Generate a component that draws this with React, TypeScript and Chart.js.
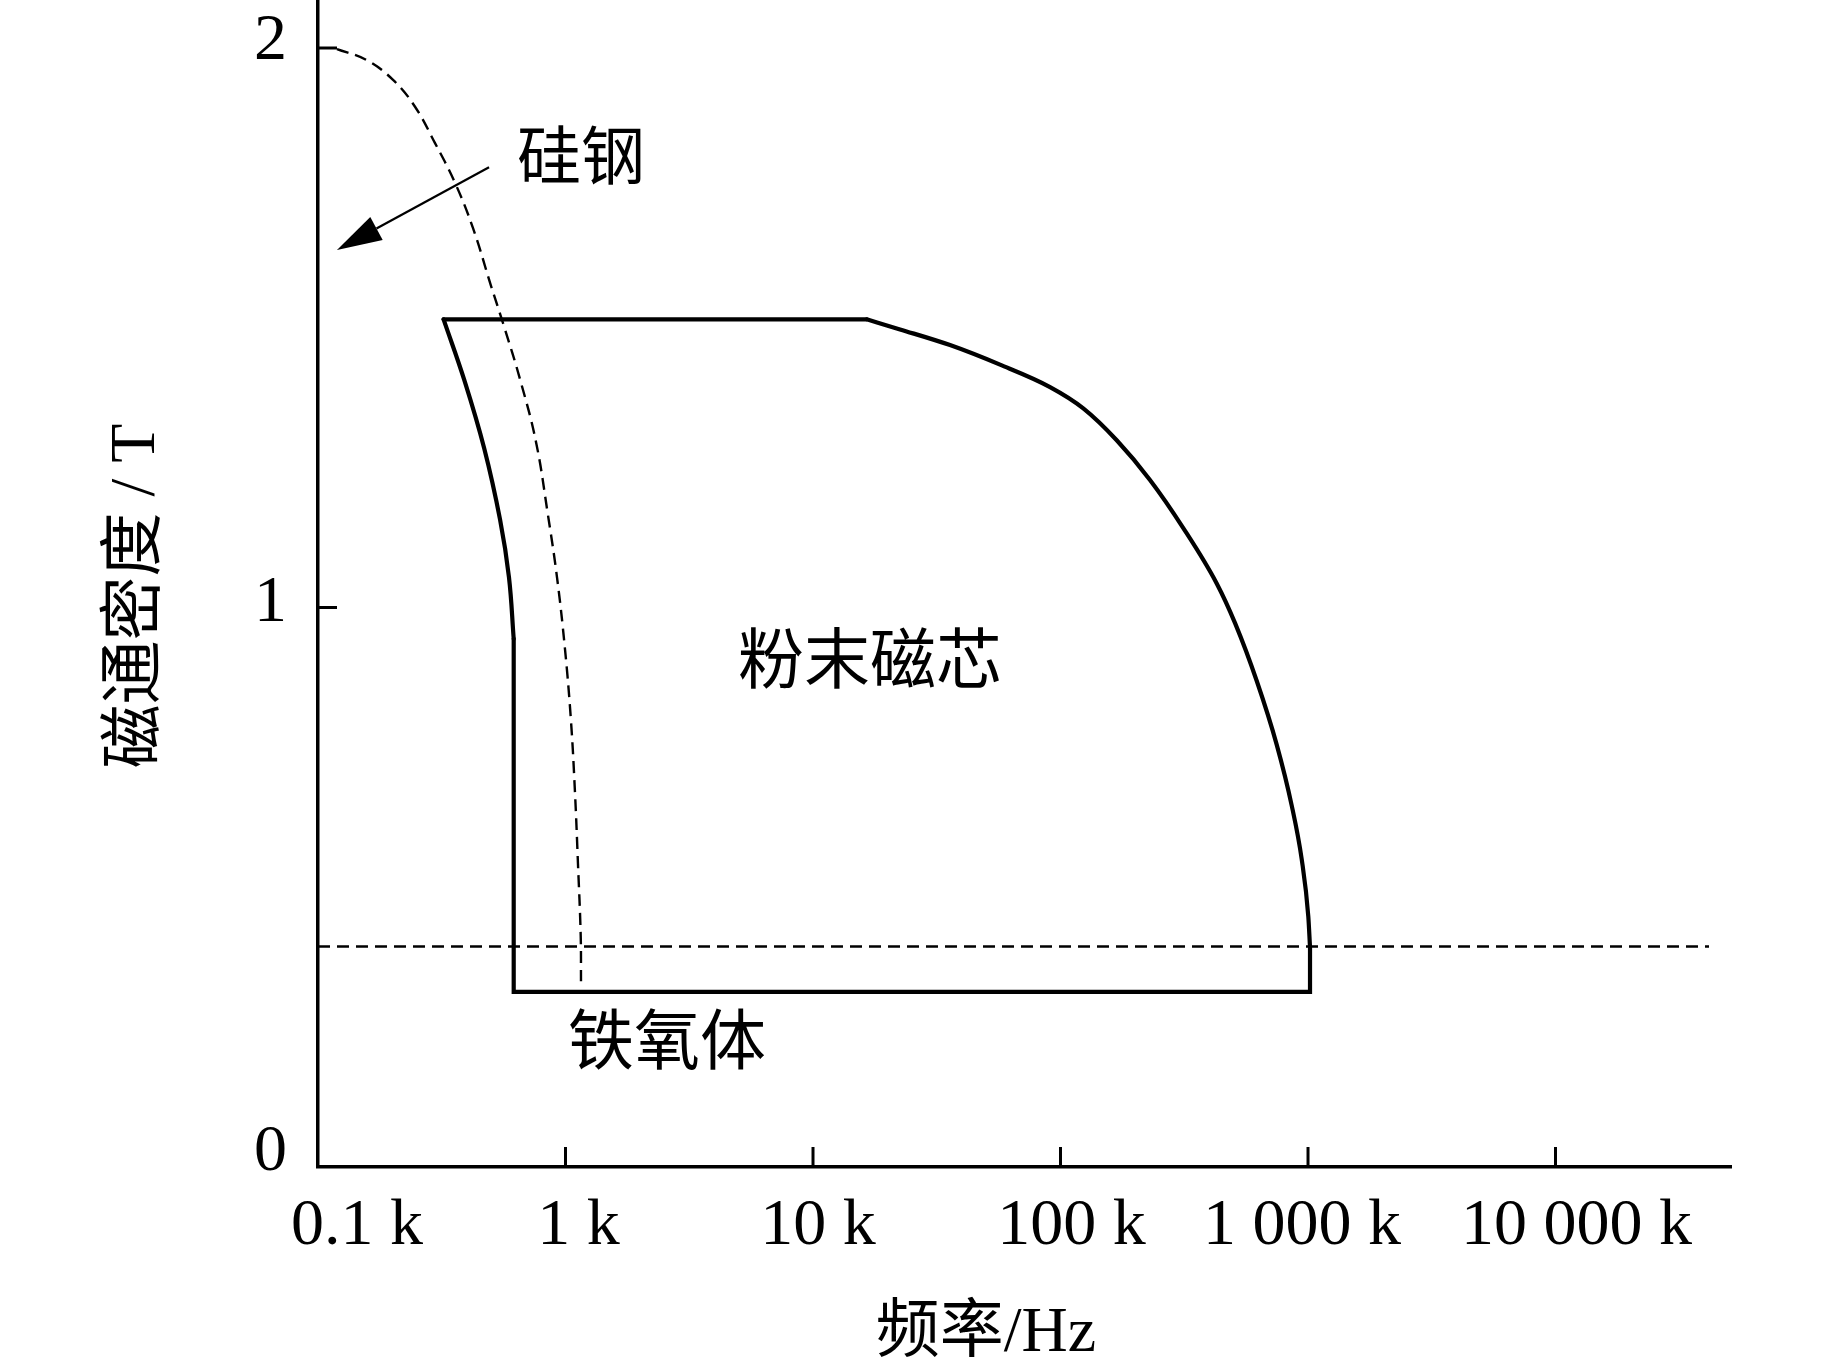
import React, { useEffect, useRef } from "react";
import { Chart, registerables } from "chart.js";

Chart.register(...registerables);

// ---------- data ----------
const xTickValues = [100, 1e3, 1e4, 1e5, 1e6, 1e7];
const xTickLabels = ["0.1 k", "1 k", "10 k", "100 k", "1 000 k", "10 000 k"];
const yTickValues = [0, 1, 2];
const yTickLabels = ["0", "1", "2"];

// 粉末磁芯 region boundary (Hz, T)
const powderTopX = [321.7, 16480];
const powderTopY = [1.515, 1.515];
const powderRightX = [16480, 22470, 35770, 56960, 90700, 123600, 168700, 229900, 313400, 427700, 507300, 620300, 747200, 859400, 943000, 1002800, 1018800];
const powderRightY = [1.515, 1.497, 1.469, 1.434, 1.394, 1.356, 1.299, 1.228, 1.142, 1.043, 0.972, 0.869, 0.755, 0.646, 0.55, 0.4475, 0.393];
const powderBottomX = [1018800, 1018800, 617.6, 617.6];
const powderBottomY = [0.393, 0.313, 0.313, 0.944];
const powderLeftX = [617.6, 591, 544, 469, 391, 321.7];
const powderLeftY = [0.944, 1.054, 1.157, 1.285, 1.405, 1.515];

// 硅钢 dashed curve
const siliconX = [119.3, 156.3, 201, 246.6, 297, 357.8, 423, 500, 564, 655, 760, 849.6, 924, 995, 1052, 1092, 1123, 1152, 1155];
const siliconY = [1.998, 1.979, 1.943, 1.895, 1.83, 1.759, 1.678, 1.575, 1.503, 1.408, 1.296, 1.165, 1.054, 0.926, 0.798, 0.67, 0.542, 0.413, 0.332];

// 铁氧体 dashed horizontal line
const ferriteX = [100, 4.17e7];
const ferriteY = [0.394, 0.394];

// arrow: tail -> tip
const arrowX = [491, 119.3];
const arrowY = [1.787, 1.639];

// region labels
const labelTexts = ["硅钢", "粉末磁芯", "铁氧体"];
const labelX = [1155, 17000, 2570];
const labelY = [1.796, 0.896, 0.2145];

const xMin = 100;
const xMax = 5.117e7;
const yMin = 0;
const yMax = 2.0858;

// ---------- style ----------
const FONT = (s: number) => `${s}px "Liberation Serif", "Times New Roman", "Noto Sans CJK SC", serif`;
const xLabelShift = [39, 13, 5, 11, -6, 21];
const yLabelShift = [-14, -4, -6];

const pts = (xs: number[], ys: number[]) => xs.map((x, i) => ({ x, y: ys[i] }));

const overlayPlugin = {
  id: "overlay",
  afterDraw(chart: any) {
    const { ctx, chartArea } = chart;
    const xs = chart.scales.x;
    const ys = chart.scales.y;
    ctx.save();
    ctx.strokeStyle = "#000";
    ctx.fillStyle = "#000";
    ctx.lineCap = "butt";

    // x ticks (inward) + labels
    ctx.lineWidth = 3;
    ctx.font = FONT(66);
    ctx.textAlign = "center";
    ctx.textBaseline = "middle";
    xTickValues.forEach((v, i) => {
      const px = xs.getPixelForValue(v);
      if (i > 0) {
        ctx.beginPath();
        ctx.moveTo(px, chartArea.bottom);
        ctx.lineTo(px, chartArea.bottom - 20);
        ctx.stroke();
      }
      ctx.fillText(xTickLabels[i], px + xLabelShift[i], chartArea.bottom + 60);
    });

    // y ticks (inward) + labels
    ctx.textAlign = "right";
    yTickValues.forEach((v, i) => {
      const py = ys.getPixelForValue(v);
      if (v > 0) {
        ctx.beginPath();
        ctx.moveTo(chartArea.left, py);
        ctx.lineTo(chartArea.left + 19, py);
        ctx.stroke();
      }
      ctx.fillText(yTickLabels[i], chartArea.left - 31, py + yLabelShift[i]);
    });

    // axis titles
    ctx.font = FONT(64);
    ctx.textAlign = "center";
    ctx.fillText("频率/Hz", 986, 1334);
    ctx.save();
    ctx.translate(137, 596);
    ctx.rotate(-Math.PI / 2);
    ctx.fillText("磁通密度 / T", 0, 0);
    ctx.restore();

    // region labels
    labelTexts.forEach((t, i) => {
      ctx.font = FONT(i === 0 ? 64 : 66);
      ctx.fillText(t, xs.getPixelForValue(labelX[i]), ys.getPixelForValue(labelY[i]));
    });

    // arrow
    const x0 = xs.getPixelForValue(arrowX[0]);
    const y0 = ys.getPixelForValue(arrowY[0]);
    const x1 = xs.getPixelForValue(arrowX[1]);
    const y1 = ys.getPixelForValue(arrowY[1]);
    const ang = Math.atan2(y1 - y0, x1 - x0);
    const headLen = 45;
    const headHalf = 13;
    const bx = x1 - headLen * Math.cos(ang);
    const by = y1 - headLen * Math.sin(ang);
    ctx.lineWidth = 2.2;
    ctx.beginPath();
    ctx.moveTo(x0, y0);
    ctx.lineTo(bx, by);
    ctx.stroke();
    ctx.beginPath();
    ctx.moveTo(x1, y1);
    ctx.lineTo(bx + headHalf * Math.sin(ang), by - headHalf * Math.cos(ang));
    ctx.lineTo(bx - headHalf * Math.sin(ang), by + headHalf * Math.cos(ang));
    ctx.closePath();
    ctx.fill();

    ctx.restore();
  },
};

export default function App() {
  const ref = useRef<HTMLCanvasElement | null>(null);

  useEffect(() => {
    document.body.style.margin = "0";
    document.body.style.overflow = "hidden";
    const canvas = ref.current;
    if (!canvas) return;
    const solid = {
      borderColor: "#000",
      borderWidth: 4.2,
      pointRadius: 0,
      showLine: true,
      fill: false,
      borderCapStyle: "round" as const,
      borderJoinStyle: "miter" as const,
    };
    const dashed = {
      borderColor: "#000",
      borderWidth: 2.4,
      borderDash: [12, 7],
      pointRadius: 0,
      showLine: true,
      fill: false,
    };
    const chart = new Chart(canvas, {
      type: "scatter",
      data: {
        datasets: [
          { ...solid, label: "粉末磁芯 top", data: pts(powderTopX, powderTopY), tension: 0 },
          {
            ...solid,
            label: "粉末磁芯 right",
            data: pts(powderRightX, powderRightY),
            tension: 0.4,
            cubicInterpolationMode: "monotone" as const,
          },
          { ...solid, label: "粉末磁芯 bottom", data: pts(powderBottomX, powderBottomY), tension: 0 },
          { ...solid, label: "粉末磁芯 left", data: pts(powderLeftX, powderLeftY), tension: 0.4 },
          { ...dashed, label: "硅钢", data: pts(siliconX, siliconY), tension: 0.4 },
          { ...dashed, label: "铁氧体", data: pts(ferriteX, ferriteY), tension: 0 },
        ],
      },
      options: {
        animation: false,
        responsive: false,
        devicePixelRatio: 1,
        events: [],
        layout: { padding: { left: 0, right: 112, top: 0, bottom: 0 } },
        plugins: { legend: { display: false }, tooltip: { enabled: false } },
        scales: {
          x: {
            type: "logarithmic",
            min: xMin,
            max: xMax,
            ticks: { display: false },
            grid: { display: false },
            border: { display: true, color: "#000", width: 3.5 },
            afterFit: (s: any) => {
              s.height = 203;
            },
          },
          y: {
            type: "linear",
            min: yMin,
            max: yMax,
            ticks: { display: false },
            grid: { display: false },
            border: { display: true, color: "#000", width: 3.5 },
            afterFit: (s: any) => {
              s.width = 318;
            },
          },
        },
      },
      plugins: [overlayPlugin],
    });
    return () => chart.destroy();
  }, []);

  return (
    <div style={{ position: "absolute", left: 0, top: 0, width: 1843, height: 1370, background: "#fff" }}>
      <canvas ref={ref} width={1843} height={1370} style={{ width: 1843, height: 1370 }} />
    </div>
  );
}
